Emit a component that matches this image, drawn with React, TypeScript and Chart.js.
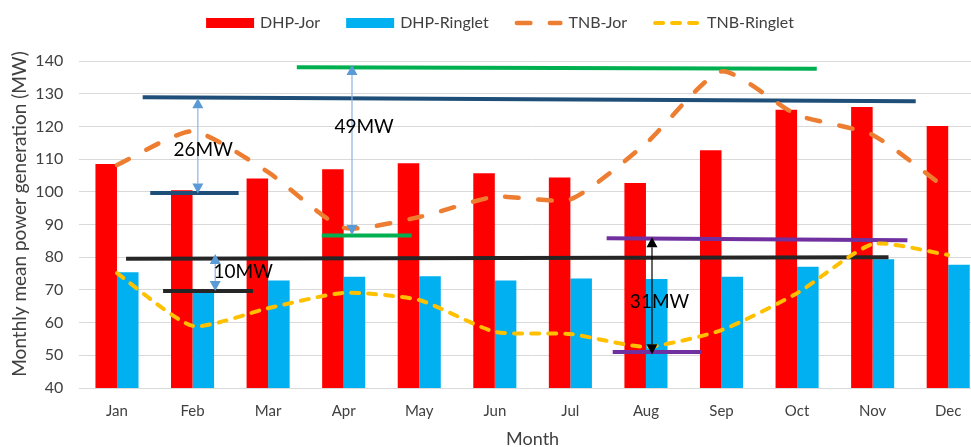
import React, { useEffect, useRef } from 'react';
import { Chart, registerables } from 'chart.js';

Chart.register(...registerables);

// ---- data ----
const months = ['Jan', 'Feb', 'Mar', 'Apr', 'May', 'Jun', 'Jul', 'Aug', 'Sep', 'Oct', 'Nov', 'Dec'];
const dhpJor = [108.5, 100.5, 104.1, 106.9, 108.7, 105.7, 104.4, 102.7, 112.7, 125.1, 125.9, 120.1];
const dhpRinglet = [75.4, 70.3, 72.9, 74.0, 74.2, 72.9, 73.5, 73.3, 74.0, 77.1, 79.4, 77.7];
const tnbJor = [108.2, 118.5, 106.0, 89.0, 92.3, 98.5, 97.7, 114.8, 136.8, 123.5, 117.4, 100.5];
const tnbRinglet = [75.1, 59.0, 64.4, 69.1, 66.9, 57.2, 56.5, 52.6, 57.7, 69.0, 84.0, 80.7];
const yMin = 40;
const yMax = 140;
const yStep = 10;

// reference segments (x in month-index units, y in MW)
const refStartX = [0.34, 0.44, 2.38, 2.71, 0.12, 0.61, 6.48, 6.56];
const refEndX = [10.57, 1.61, 9.26, 3.9, 10.21, 1.8, 10.46, 7.74];
const refStartY = [128.9, 99.6, 138.1, 86.6, 79.5, 69.7, 85.8, 51.0];
const refEndY = [127.7, 99.6, 137.6, 86.6, 80.0, 69.7, 85.2, 51.0];
const refColors = ['#1F4E79', '#1F4E79', '#00B050', '#00B050', '#262626', '#262626', '#7030A0', '#7030A0'];

// gap arrows and labels
const gapLabels = ['26MW', '49MW', '10MW', '31MW'];
const gapX = [1.07, 3.11, 1.3, 7.08];
const gapTop = [128.6, 138.8, 81.0, 86.1];
const gapBottom = [99.5, 86.8, 69.7, 50.3];
const gapLabelX = [1.14, 3.27, 1.67, 7.18];
const gapLabelY = [112.8, 119.8, 75.6, 66.4];
const gapColors = ['#5B9BD5', '#5B9BD5', '#5B9BD5', '#000000'];

const FONT = 'Lato, "Open Sans", sans-serif';

function xAt(chart: any, v: number) {
  const s = chart.scales.x;
  const p0 = s.getPixelForValue(0);
  const p1 = s.getPixelForValue(1);
  return p0 + v * (p1 - p0);
}

const overlayPlugin = {
  id: 'overlay',
  beforeDatasetsDraw(chart: any) {
    chart.$refDrawn = false;
  },
  beforeDatasetDraw(chart: any, args: any) {
    if (chart.$refDrawn) return;
    if (chart.data.datasets[args.index].type !== 'line') return;
    chart.$refDrawn = true;
    const ctx = chart.ctx;
    const y = chart.scales.y;
    ctx.save();
    ctx.lineWidth = 4;
    ctx.lineCap = 'butt';
    for (let i = 0; i < refStartX.length; i++) {
      ctx.strokeStyle = refColors[i];
      ctx.beginPath();
      ctx.moveTo(xAt(chart, refStartX[i]), y.getPixelForValue(refStartY[i]));
      ctx.lineTo(xAt(chart, refEndX[i]), y.getPixelForValue(refEndY[i]));
      ctx.stroke();
    }
    ctx.restore();
  },
  afterDatasetsDraw(chart: any) {
    const ctx = chart.ctx;
    const y = chart.scales.y;
    ctx.save();
    for (let i = 0; i < gapLabels.length; i++) {
      const x = xAt(chart, gapX[i]);
      const yt = y.getPixelForValue(gapTop[i]);
      const yb = y.getPixelForValue(gapBottom[i]);
      const hl = 10;
      const hw = 5.5;
      ctx.strokeStyle = i === 3 ? '#000000' : '#8DB4E2';
      ctx.lineWidth = 1.2;
      ctx.beginPath();
      ctx.moveTo(x, yt + hl);
      ctx.lineTo(x, yb - hl);
      ctx.stroke();
      ctx.fillStyle = gapColors[i];
      ctx.beginPath();
      ctx.moveTo(x, yt);
      ctx.lineTo(x - hw, yt + hl);
      ctx.lineTo(x + hw, yt + hl);
      ctx.closePath();
      ctx.fill();
      ctx.beginPath();
      ctx.moveTo(x, yb);
      ctx.lineTo(x - hw, yb - hl);
      ctx.lineTo(x + hw, yb - hl);
      ctx.closePath();
      ctx.fill();
    }
    ctx.fillStyle = '#000000';
    ctx.font = '19px ' + FONT;
    ctx.textAlign = 'center';
    ctx.textBaseline = 'middle';
    for (let i = 0; i < gapLabels.length; i++) {
      ctx.fillText(gapLabels[i], xAt(chart, gapLabelX[i]), y.getPixelForValue(gapLabelY[i]));
    }
    ctx.restore();
  },
  afterDraw(chart: any) {
    const ctx = chart.ctx;
    ctx.save();
    // y axis title
    ctx.fillStyle = '#404040';
    ctx.font = '19px ' + FONT;
    ctx.textAlign = 'center';
    ctx.textBaseline = 'middle';
    ctx.translate(20, 214);
    ctx.rotate(-Math.PI / 2);
    ctx.fillText('Monthly mean power generation (MW)', 0, 0);
    ctx.restore();

    // legend
    ctx.save();
    ctx.font = '16px ' + FONT;
    ctx.textBaseline = 'middle';
    ctx.textAlign = 'left';
    const boxW = 48;
    const gap = 6;
    const spacing = 26;
    const ds = chart.data.datasets;
    const widths = ds.map((d: any) => boxW + gap + ctx.measureText(d.label).width);
    const total = widths.reduce((a: number, b: number) => a + b, 0) + spacing * (ds.length - 1);
    let x = chart.width / 2 - total / 2;
    const cy = 23;
    ds.forEach((d: any, i: number) => {
      if (d.type === 'bar') {
        ctx.fillStyle = d.backgroundColor;
        ctx.fillRect(x, cy - 5, boxW, 10);
      } else {
        ctx.strokeStyle = d.borderColor;
        ctx.lineWidth = d.borderWidth;
        ctx.lineCap = 'round';
        ctx.setLineDash(d.borderDash);
        const inset = d.borderWidth / 2;
        ctx.beginPath();
        ctx.moveTo(x + inset, cy);
        ctx.lineTo(x + boxW - inset, cy);
        ctx.stroke();
        ctx.setLineDash([]);
      }
      ctx.fillStyle = '#404040';
      ctx.fillText(d.label, x + boxW + gap, cy);
      x += widths[i] + spacing;
    });
    ctx.restore();
  },
};

export default function App() {
  const ref = useRef<HTMLCanvasElement | null>(null);
  useEffect(() => {
    if (!ref.current) return;
    const chart = new Chart(ref.current, {
      type: 'bar',
      data: {
        labels: months,
        datasets: [
          { type: 'bar', label: 'DHP-Jor', data: dhpJor, backgroundColor: '#FF0000', order: 1 } as any,
          { type: 'bar', label: 'DHP-Ringlet', data: dhpRinglet, backgroundColor: '#00B0F0', order: 1 } as any,
          {
            type: 'line', label: 'TNB-Jor', data: tnbJor, borderColor: '#ED7D31', backgroundColor: '#ED7D31',
            borderWidth: 4.5, borderDash: [13.5, 19.5], borderCapStyle: 'round', tension: 0.2,
            pointRadius: 0, fill: false, order: 0,
          } as any,
          {
            type: 'line', label: 'TNB-Ringlet', data: tnbRinglet, borderColor: '#FFC000', backgroundColor: '#FFC000',
            borderWidth: 4, borderDash: [8, 9], borderCapStyle: 'round', tension: 0.2,
            pointRadius: 0, fill: false, order: 0,
          } as any,
        ],
      },
      options: {
        animation: false,
        responsive: false,
        devicePixelRatio: 1,
        layout: { padding: { top: 61, left: 10, right: 14, bottom: 0 } },
        datasets: { bar: { categoryPercentage: 0.57, barPercentage: 1 } },
        plugins: { legend: { display: false }, tooltip: { enabled: false } },
        scales: {
          x: {
            grid: { display: false, drawTicks: false },
            border: { display: false },
            ticks: { font: { family: FONT, size: 15 }, color: '#404040', padding: 14 },
            title: { display: true, text: 'Month', font: { family: FONT, size: 18 }, color: '#404040', padding: { top: 0, bottom: 0 } },
            afterFit: (s: any) => { s.height = 62; },
          },
          y: {
            min: yMin,
            max: yMax,
            grid: { color: '#D9D9D9', lineWidth: 1, drawTicks: false },
            border: { display: false },
            ticks: { stepSize: yStep, font: { family: FONT, size: 16 }, color: '#404040', padding: 16 },
            afterFit: (s: any) => { s.width = 69.2; },
          },
        },
      },
      plugins: [overlayPlugin],
    } as any);
    return () => chart.destroy();
  }, []);
  return (
    <div style={{ position: 'fixed', left: 0, top: 0, width: 971, height: 447, overflow: 'hidden', background: '#fff' }}>
      <canvas ref={ref} width={1000} height={450} />
    </div>
  );
}
